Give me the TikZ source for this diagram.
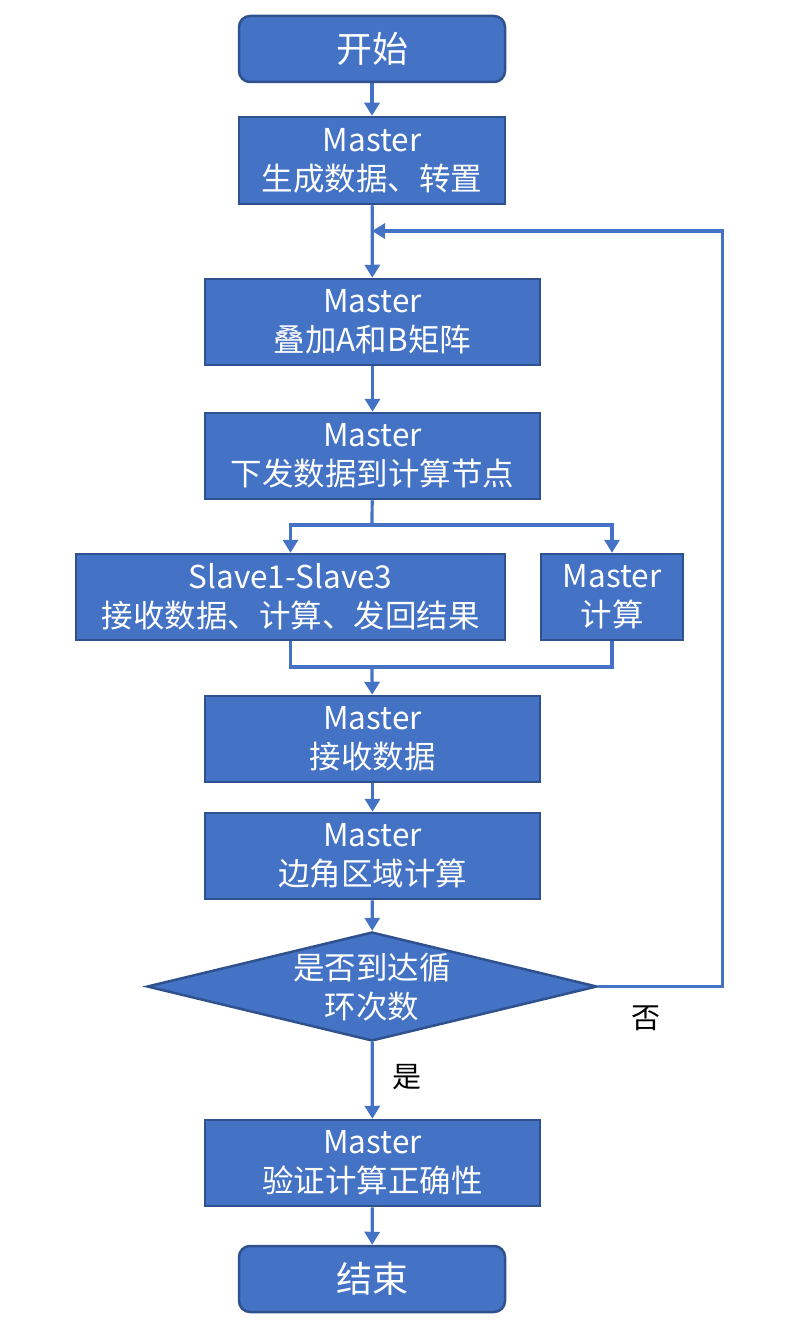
\documentclass[tikz,border=0pt]{standalone}
\usepackage{fontspec}
\setmainfont{Noto Sans CJK SC}
\usetikzlibrary{arrows.meta,shapes.geometric}
\definecolor{boxfill}{HTML}{4472C4}
\definecolor{boxline}{HTML}{2F528F}
\definecolor{conn}{HTML}{4472C4}
\begin{document}
\begin{tikzpicture}[x=1pt,y=-1pt,
  base/.style={draw=boxline,fill=boxfill,line width=2.5pt,text=white,align=center,inner sep=0pt,font=\fontsize{31.5}{39}\selectfont},
  stepbox/.style={base,minimum width=335pt,minimum height=86pt},
  termbox/.style={base,rounded corners=11pt,minimum width=266pt,minimum height=66pt,font=\fontsize{36}{40}\selectfont},
  decision/.style={base,diamond,aspect=4.13,minimum width=450pt,minimum height=109pt},
  dtext/.style={text=white,align=center,inner sep=0pt,font=\fontsize{31.5}{39}\selectfont},
  conn/.style={draw=conn,line width=3.2pt,-{Triangle[width=15pt,length=13pt]}},
  plain/.style={draw=conn,line width=3.2pt},
  lbl/.style={text=black,font=\fontsize{29}{32}\selectfont,inner sep=0pt}]
\useasboundingbox (0,0) rectangle (785,1332);
\node[termbox] (start) at (372,49) {开始};
\node[stepbox,minimum width=266pt,minimum height=87pt] (gen) at (372,160.5) {Master\\生成数据、转置};
\node[stepbox] (stack) at (372.5,322) {Master\\叠加A和B矩阵};
\node[stepbox] (send) at (372.5,456) {Master\\下发数据到计算节点};
\node[stepbox,minimum width=429pt] (slave) at (290.5,597) {Slave1-Slave3\\接收数据、计算、发回结果};
\node[stepbox,minimum width=142pt] (mcalc) at (612,597) {Master\\计算};
\node[stepbox] (recv) at (372.5,739) {Master\\接收数据};
\node[stepbox] (edge) at (372.5,856) {Master\\边角区域计算};
\node[decision] (dia) at (372,986.5) {};
\node[dtext] (diatext) at (372,987) {是否到达循\\环次数};
\node[stepbox] (verify) at (372.5,1163) {Master\\验证计算正确性};
\node[termbox] (end) at (372,1279) {结束};
\coordinate (loopin) at (372,231);
\coordinate (split) at (372,525);
\coordinate (merge) at (372,667);
\node[lbl] (no) at (646,1018) {否};
\node[lbl] (yes) at (407,1077) {是};
\draw[conn] (start) -- (gen);
\draw[conn] (gen) -- (stack);
\draw[conn] (stack) -- (send);
\draw[plain] (send) -- (split);
\draw[conn] (split) -| (slave);
\draw[conn] (split) -| (mcalc);
\draw[plain] (slave.south) |- (merge) -| (mcalc.south);
\draw[conn] (merge) -- (recv);
\draw[conn] (recv) -- (edge);
\draw[conn] (edge) -- (dia);
\draw[conn] (dia.east) -- ++(124,0) |- (loopin);
\draw[conn] (dia) -- (verify);
\draw[conn] (verify) -- (end);
\end{tikzpicture}
\end{document}
